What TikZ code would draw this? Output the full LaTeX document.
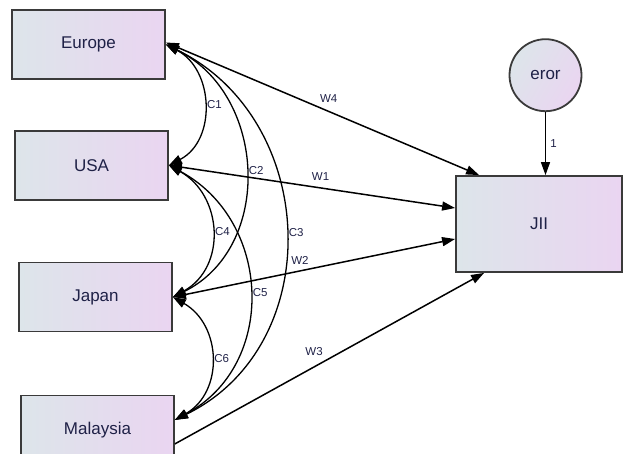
\documentclass[tikz,border=0pt]{standalone}
\usepackage{fontspec}
\setmainfont{Liberation Sans}
\usetikzlibrary{arrows.meta, positioning}
\definecolor{boxleft}{HTML}{DDE5EA}
\definecolor{boxright}{HTML}{EAD5F1}
\definecolor{txtcolor}{HTML}{1F2147}
\definecolor{edgecolor}{HTML}{3A3A3A}

\begin{document}
\begin{tikzpicture}[
    x=1pt, y=-1pt,
    var/.style={rectangle, draw=edgecolor, line width=1.8pt,
                minimum width=153pt, minimum height=69pt, inner sep=0pt,
                left color=boxleft, right color=boxright,
                font=\fontsize{17}{19}\selectfont, text=txtcolor},
    err/.style={circle, draw=edgecolor, line width=1.8pt,
                minimum size=72pt, inner sep=0pt,
                left color=boxleft, right color=boxright, shading angle=60,
                font=\fontsize{17}{19}\selectfont, text=txtcolor},
    reg/.style={-{Triangle[length=13pt, width=9pt]}, line width=1.5pt},
    both/.style={{Triangle[length=13pt, width=9pt]}-{Triangle[length=13pt, width=9pt]},
                line width=1.5pt},
    cov/.style={{Triangle[length=13pt, width=9pt]}-{Triangle[length=13pt, width=9pt]},
                line width=1.3pt},
    lbl/.style={font=\fontsize{11.5}{13}\selectfont, text=txtcolor, inner sep=1pt}
]
\useasboundingbox (0,0) rectangle (624,454);

% Exogenous variables
\node[var] (europe) at (88.5,44.5) {Europe};
\node[var, below=50pt of europe, xshift=3pt] (usa) {USA};
\node[var, below=61pt of usa, xshift=4pt] (japan) {Japan};
\node[var, below=62pt of japan, xshift=2pt] (malaysia) {Malaysia};

% Outcome and error
\node[var, minimum width=166pt, minimum height=96pt] (jii) at (539,224) {JII};
\node[err, above=63pt of jii, xshift=6.5pt] (eror) {eror};

% Regression paths
\draw[both] ([yshift=2pt]europe.east) -- ([xshift=24pt]jii.north west)
    node[lbl, pos=0.52, above=7pt] (w4) {W4};
\draw[both] (usa.east) -- ([yshift=16pt]jii.west)
    node[lbl, pos=0.53, above=6pt] (w1) {W1};
\draw[both] (japan.east) -- ([yshift=-15pt]jii.west)
    node[lbl, pos=0.45, above=5pt] (w2) {W2};
\draw[reg] ([yshift=-14pt]malaysia.east) -- ([xshift=29pt]jii.south west)
    node[lbl, pos=0.45, above=10pt] (w3) {W3};
\draw[reg] (eror.south) -- (eror.south |- jii.north)
    node[lbl, midway, right=3pt] (one) {1};

% Covariances
\draw[cov] (europe.east) .. controls +(48,25) and +(48,-25) .. (usa.east)
    node[lbl, pos=0.5, right=2pt] (c1) {C1};
\draw[cov] (europe.east) .. controls +(101,50) and +(101,-50) .. (japan.east)
    node[lbl, pos=0.5, right=2pt] (c2) {C2};
\draw[cov] (europe.east) .. controls +(153,75) and +(153,-75) .. ([yshift=10pt]malaysia.east)
    node[lbl, pos=0.5, right=2pt] (c3) {C3};
\draw[cov] (usa.east) .. controls +(54,30) and +(54,-30) .. (japan.east)
    node[lbl, pos=0.5, right=2pt] (c4) {C4};
\draw[cov] (usa.east) .. controls +(103,55) and +(103,-55) .. ([yshift=10pt]malaysia.east)
    node[lbl, pos=0.5, right=2pt] (c5) {C5};
\draw[cov] (japan.east) .. controls +(49,28) and +(49,-28) .. ([yshift=10pt]malaysia.east)
    node[lbl, pos=0.5, right=2pt] (c6) {C6};

\end{tikzpicture}
\end{document}
